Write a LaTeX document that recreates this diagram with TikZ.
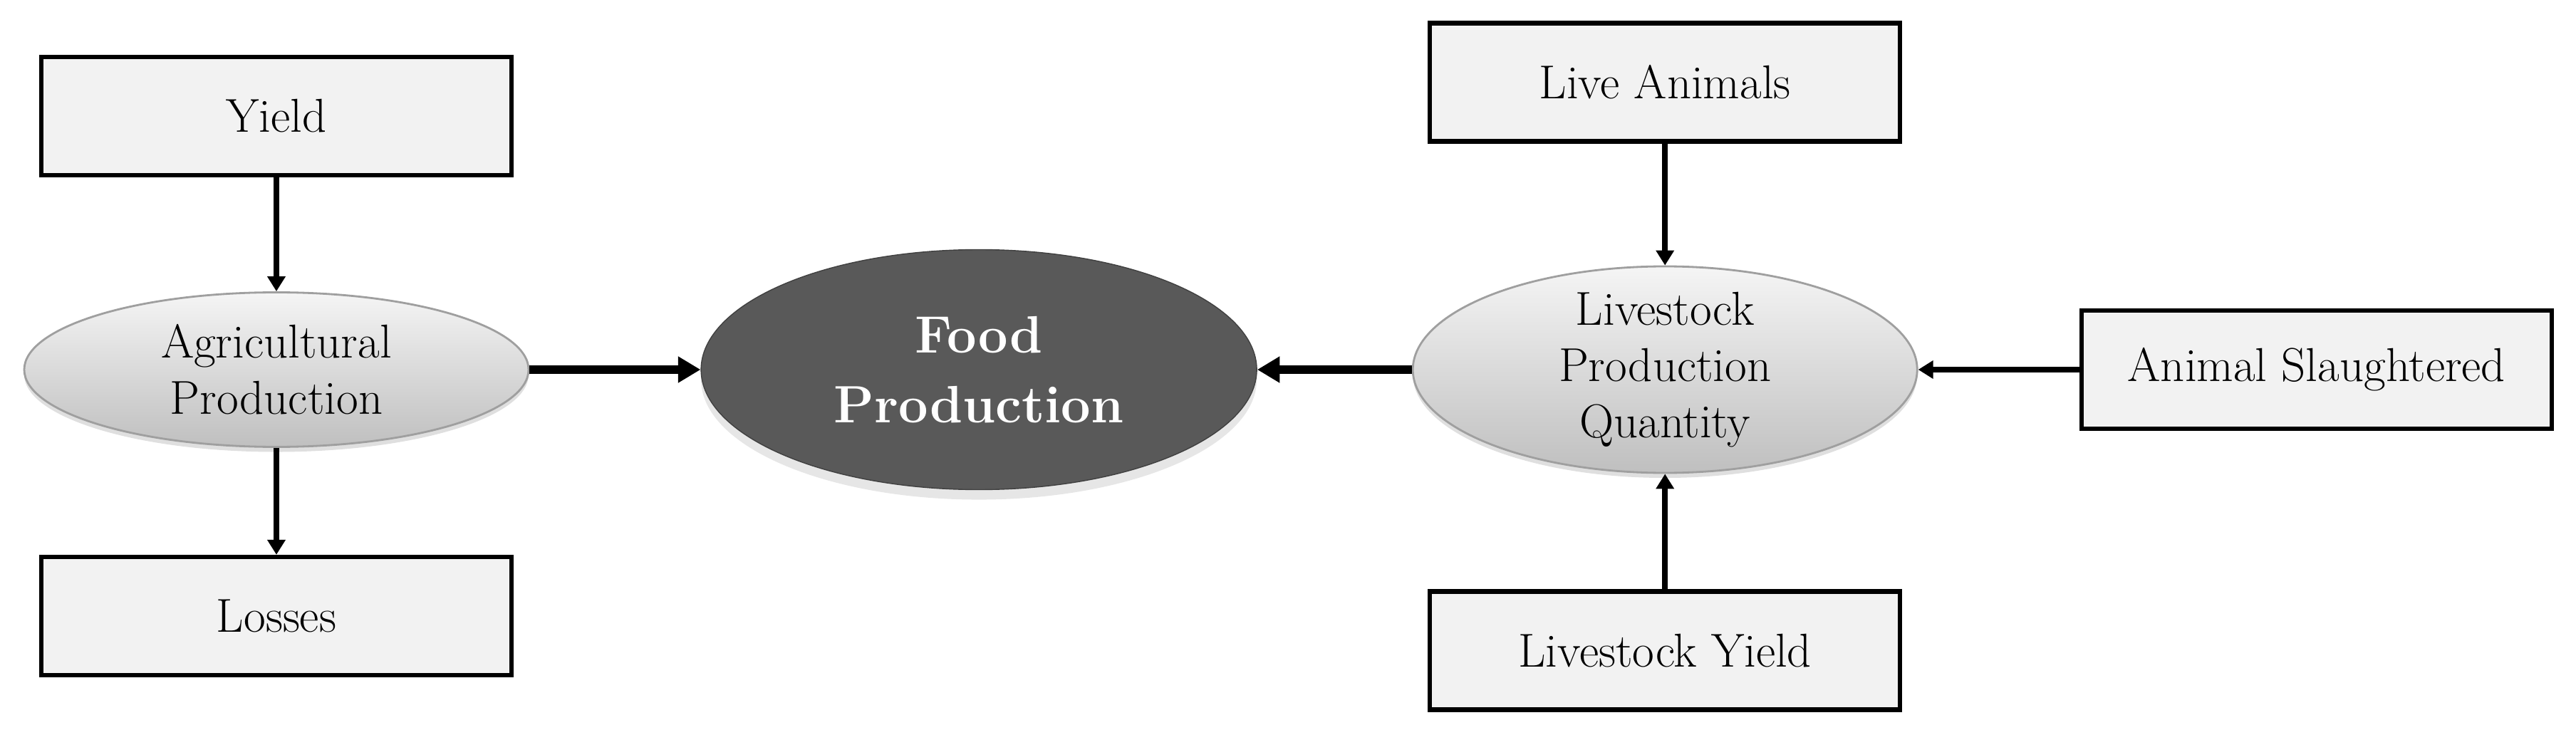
\documentclass[tikz,border=0pt]{standalone}
\usepackage{tikz}
\usetikzlibrary{shapes,positioning,shadows,arrows.meta}

\begin{document}
\begin{tikzpicture}

\tikzset{
     factor/.style={
     	rectangle,
  	 	line width=1.8pt,
  	 	draw=black,
  	 	fill=gray!10,
  	 	font=\fontsize{19}{23}\selectfont,
  	 	minimum height=1.66cm,minimum width=6.6cm
     }
}

\tikzset{
	driver/.style={
		ellipse,
		draw=gray!75,
		line width=0.8pt,
		top color=gray!8,
		bottom color=gray!50,
		drop shadow={shadow xshift=0pt,shadow yshift=-2pt,opacity=0.25},
		align=center,
		inner sep=0pt,
		font=\fontsize{19}{22.5}\selectfont,
		minimum height=2.17cm,minimum width=7.08cm
	}
}

\tikzset{
	target/.style={
		ellipse,
		fill=black!65,
		draw=black!75,
		text=white,
		drop shadow={shadow xshift=0pt,shadow yshift=-4pt,opacity=0.2},
		align=center,
		font=\fontsize{21}{28}\selectfont\bfseries,
		minimum height=3.37cm,minimum width=7.8cm
	}
}

\tikzset{
	link/.style={line width=2.2pt,-{Triangle[length=6pt,width=7pt]}},
	mainlink/.style={line width=3.2pt,-{Triangle[length=9pt,width=10pt]}}
}

\def\ecart{2.17cm}

\useasboundingbox (0,0) rectangle (36.16,10.24);

% crops side
\node[driver] (agri) at (3.88,5.05) {Agricultural\\Production};
\node[factor, above=1.6cm of agri] (yield) {Yield};
\node[factor, below=1.5cm of agri] (losses) {Losses};

% food production
\node[target, right=2.4cm of agri] (food) {Food\\Production};

% livestock side
\node[driver, minimum height=2.9cm, inner ysep=-4pt, right=\ecart of food] (livestock) {Livestock\\Production\\Quantity};
\node[factor, above=1.71cm of livestock] (liveanimals) {Live Animals};
\node[factor, below=1.62cm of livestock] (lsyield) {Livestock Yield};
\node[factor, right=2.26cm of livestock] (slaughter) {Animal Slaughtered};

% arrows
\draw[link] (yield) -- (agri);
\draw[link] (agri) -- (losses);
\draw[mainlink] (agri) -- (food);
\draw[mainlink] (livestock) -- (food);
\draw[link] (liveanimals) -- (livestock);
\draw[link] (lsyield) -- (livestock);
\draw[link] (slaughter) -- (livestock);

\end{tikzpicture}
\end{document}
